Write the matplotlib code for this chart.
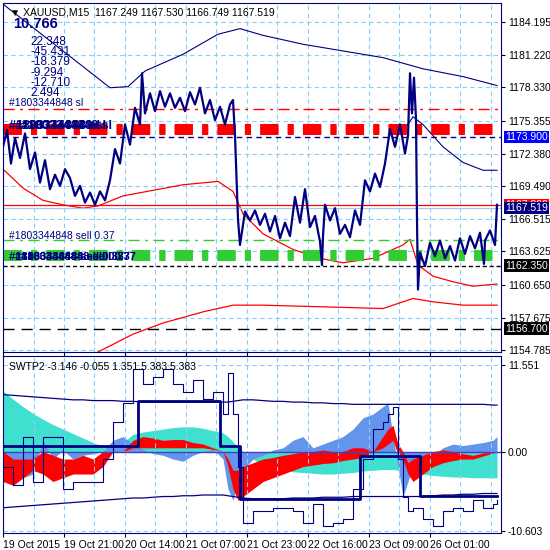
import matplotlib
matplotlib.use("Agg")
import matplotlib.pyplot as plt

plt.rcParams["font.family"] = ["Liberation Sans", "DejaVu Sans"]

# asse x: posizione in barre (1 unita ~ 1 pixel del grafico originale)
time_pos = [0, 61, 122, 183, 244, 305, 366, 427]
time_labels = ["19 Oct 2015", "19 Oct 21:00", "20 Oct 14:00", "21 Oct 07:00",
               "21 Oct 23:00", "22 Oct 16:00", "23 Oct 09:00", "26 Oct 01:00"]
price_ticks = [1154.785, 1157.675, 1160.650, 1163.625, 1166.515, 1169.490,
               1172.380, 1175.355, 1178.330, 1181.220, 1184.195]

# prezzo XAUUSD M15
px_x = [0, 4, 8, 12, 17, 22, 27, 32, 37, 42, 47, 52, 57, 62, 67, 72, 77, 82, 87, 92,
        97, 102, 107, 112, 117, 122, 127, 132, 137, 139, 142, 147, 152, 157, 162, 167,
        172, 177, 182, 187, 192, 197, 202, 207, 212, 217, 222, 227, 230, 232, 235, 237,
        242, 247, 252, 257, 262, 267, 272, 277, 282, 287, 292, 297, 302, 307, 312, 317,
        319, 320, 322, 327, 332, 337, 342, 347, 352, 357, 362, 367, 372, 377, 382, 387,
        392, 397, 402, 405, 407, 409, 411, 413, 414, 415, 417, 422, 427, 432, 437, 442,
        447, 452, 457, 462, 467, 472, 477, 481, 482, 487, 492, 494]
px_y = [1173.0, 1174.5, 1171.5, 1173.8, 1172.0, 1174.2, 1171.0, 1172.5, 1169.8, 1171.8,
        1169.2, 1170.5, 1169.5, 1171.0, 1170.2, 1168.6, 1169.5, 1168.0, 1168.9, 1167.8,
        1169.0, 1168.2, 1170.0, 1172.8, 1171.5, 1175.0, 1173.2, 1176.5, 1175.0, 1179.6,
        1176.0, 1177.8, 1176.2, 1178.0, 1176.6, 1177.8, 1176.5, 1177.4, 1176.2, 1177.9,
        1176.8, 1178.3, 1176.0, 1177.2, 1175.4, 1176.6, 1175.0, 1176.8, 1177.2, 1174.0,
        1166.5, 1164.2, 1167.2, 1166.4, 1167.3, 1166.0, 1167.0, 1165.4, 1166.8, 1164.8,
        1166.2, 1165.0, 1168.5, 1166.2, 1169.2, 1165.8, 1166.8, 1164.5, 1162.4, 1165.0,
        1167.8, 1166.4, 1167.5, 1165.2, 1166.0, 1164.9, 1167.3, 1166.0, 1170.0, 1169.0,
        1170.6, 1169.4, 1171.5, 1174.6, 1173.0, 1175.0, 1172.4, 1174.0, 1179.6, 1176.0,
        1179.2, 1175.5, 1166.4, 1160.2, 1163.5, 1162.3, 1164.4, 1163.2, 1164.6, 1163.0,
        1164.1, 1162.8, 1164.8, 1163.4, 1165.0, 1163.9, 1165.3, 1162.5, 1164.6, 1165.5,
        1164.2, 1167.8]

# medie/inviluppi
bl_up_x = [0, 40, 80, 107, 125, 142, 180, 215, 237, 260, 300, 340, 380, 420, 460, 494]
bl_up_y = [1185.8, 1183.0, 1180.2, 1178.3, 1178.4, 1179.8, 1181.3, 1183.1, 1183.6, 1183.0,
           1182.2, 1181.6, 1181.0, 1180.0, 1179.3, 1178.5]
bl_mid_x = [400, 410, 420, 440, 460, 480, 494]
bl_mid_y = [1174.4, 1175.7, 1175.0, 1173.0, 1171.6, 1170.9, 1170.9]
red_up_x = [0, 20, 40, 60, 80, 95, 120, 150, 180, 215, 230, 240, 260, 290, 317, 340, 370,
            400, 407, 415, 430, 450, 470, 494]
red_up_y = [1171.0, 1169.3, 1168.2, 1167.8, 1167.5, 1167.7, 1168.6, 1169.1, 1169.6, 1169.9,
            1169.0, 1167.0, 1165.2, 1163.8, 1163.0, 1162.6, 1163.0, 1164.2, 1164.7, 1162.4,
            1161.4, 1160.9, 1160.5, 1160.7]
red_lo_x = [95, 130, 160, 200, 230, 260, 300, 340, 380, 410, 430, 460, 494]
red_lo_y = [1154.6, 1156.2, 1157.2, 1158.2, 1158.8, 1158.8, 1158.7, 1158.6, 1158.5, 1159.4,
            1159.1, 1158.8, 1158.8]

# ordini (livelli orizzontali)
sl_levels = [1175.0, 1174.8, 1174.6, 1174.4, 1174.2]
tp_levels = [1163.7, 1163.5, 1163.3, 1163.1, 1162.9]
price_labels = [1173.9, 1167.8, 1167.519, 1162.35, 1156.7]
label_colors = ["#0000ff", "red", "#000080", "black", "black"]

# oscillatore SWTP2
osc_x = [0, 10, 20, 30, 40, 50, 60, 70, 80, 90, 100, 110, 120, 130, 140, 150, 160, 170,
         180, 190, 200, 210, 220, 225, 230, 235, 240, 250, 260, 270, 280, 290, 300, 310,
         320, 330, 340, 350, 360, 370, 380, 385, 390, 395, 400, 405, 410, 420, 430, 440,
         450, 460, 470, 480, 490, 494]
sig = [8.1, 7.0, 6.0, 5.1, 4.3, 3.6, 3.0, 2.4, 1.8, 1.2, 0.7, 0.5, 1.2, 2.3, 2.6, 2.8, 3.0,
       3.2, 3.3, 3.3, 3.1, 2.8, 2.5, 2.0, 1.3, 0.6, 0.0, -1.0, -1.8, -2.2, -2.5, -2.7, -2.8,
       -2.9, -3.0, -3.0, -2.9, -2.8, -2.6, -2.5, -2.4, -2.4, -2.4, -2.5, -2.6, -2.7, -2.8,
       -3.0, -3.2, -3.3, -3.4, -3.4, -3.5, -3.5, -3.5, -3.5]
fast = [-2.0, -4.5, -3.5, -3.0, 1.5, -1.0, 0.2, -1.0, -0.5, -0.3, 0.0, 1.5, 2.0, 1.0, 0.3,
        -0.3, -0.5, -1.0, -1.3, -0.5, 0.0, 0.3, -1.0, -5.0, -6.5, -4.0, -2.5, -1.0, -0.5,
        0.2, 0.5, 1.5, 2.0, 0.5, 1.0, 1.5, 2.0, 3.0, 4.5, 5.0, 6.0, 6.5, 2.0, -2.0, -6.0,
        -4.0, -2.0, -1.5, -0.5, 0.5, 1.0, 0.8, 1.0, 1.2, 1.5, 2.0]
red_top = [0.0, -1.0, -1.0, -1.0, 0.0, -0.5, -1.0, -1.0, -0.5, -1.0, 0.0, 0.0, 0.0, 1.5,
           2.0, 1.8, 1.5, 1.6, 1.6, 1.2, 1.0, 0.5, 0.0, -1.0, -2.5, -2.5, -2.0, -1.5, -1.0,
           -0.8, -0.5, -0.3, 0.0, 0.0, 0.2, 0.0, 0.0, 0.5, 0.5, 0.0, 2.0, 3.0, 3.5, 1.0, 0.0,
           -1.5, -1.0, -0.5, 0.0, 0.2, 0.0, -0.3, -0.5, -0.2, 0.0, 0.0]
red_bot = [-4.0, -4.5, -3.5, -2.5, -3.0, -4.0, -3.5, -3.0, -3.0, -3.0, -2.0, 0.0, 0.0,
           0.5, 0.5, 0.5, 0.5, 0.5, 0.5, 0.5, 0.5, 0.3, 0.0, -2.0, -5.0, -6.5, -6.0, -5.0,
           -4.0, -3.5, -3.0, -2.5, -2.0, -1.8, -1.6, -1.5, -1.2, -1.0, -0.8, 0.0, 0.5, 1.0,
           1.5, -0.5, -1.0, -3.0, -4.0, -3.0, -2.0, -1.5, -1.2, -1.0, -1.0, -0.6, -0.2, 0.0]
raw = [-2.0, -4.5, 2.0, -4.0, 2.0, 2.0, -5.0, -4.0, -4.0, -4.0, -1.0, 4.0, 6.5, 11.0, 9.0,
       10.0, 11.0, 9.0, 8.0, 9.5, 7.0, 8.0, 5.0, 10.5, 5.0, -2.0, -9.5, -8.0, -8.0, -7.5,
       -7.5, -8.0, -9.5, -7.0, -10.0, -9.5, -9.0, -5.0, -1.0, 3.0, 4.0, 5.0, 6.0, -1.0,
       -6.0, -8.0, -7.5, -9.0, -10.0, -8.0, -7.5, -8.0, -6.5, -7.5, -7.0, -6.5]
step_x = [0, 135, 217, 237, 357, 417, 494]
step_y = [0.8, 6.7, 0.7, -6.3, -0.6, -5.9, -5.9]
env_up = [7.6, 7.5, 7.4, 7.3, 7.2, 7.1, 7.0, 6.9, 6.9, 6.8, 6.8, 6.8, 6.7, 6.7, 6.6, 6.6,
          6.6, 6.6, 6.6, 6.6, 6.6, 6.6, 6.6, 6.6, 6.7, 6.8, 6.9, 6.9, 6.8, 6.7, 6.7, 6.6,
          6.6, 6.5, 6.5, 6.4, 6.4, 6.3, 6.3, 6.3, 6.3, 6.3, 6.3, 6.3, 6.3, 6.3, 6.3, 6.3,
          6.3, 6.3, 6.3, 6.3, 6.3, 6.3, 6.2, 6.2]
env_lo = [-7.5, -7.4, -7.3, -7.2, -7.1, -7.0, -6.9, -6.8, -6.7, -6.6, -6.5, -6.4, -6.3,
          -6.2, -6.2, -6.1, -6.0, -6.0, -5.9, -5.9, -5.8, -5.8, -5.8, -5.9, -6.0, -6.1,
          -6.2, -6.3, -6.3, -6.3, -6.3, -6.2, -6.2, -6.2, -6.1, -6.1, -6.1, -6.0, -6.0,
          -6.0, -6.0, -6.0, -6.0, -6.0, -6.0, -6.0, -6.0, -6.0, -5.9, -5.8, -5.8, -5.7,
          -5.7, -5.6, -5.6, -5.6]

NAVY = "#000080"
GRID = "#87cefa"
W, H = 550, 550
fig = plt.figure(figsize=(5.5, 5.5), dpi=100)


def box(l, t, r, b):
    return [l / W, 1 - b / H, (r - l) / W, (b - t) / H]


ax = fig.add_axes(box(3, 3, 501, 352))
ax2 = fig.add_axes(box(3, 356, 501, 533))
for a in (ax, ax2):
    a.set_xlim(0, 498)
    for s in a.spines.values():
        s.set_color(NAVY)
    a.tick_params(colors="black", labelsize=7.5, direction="out", length=3, pad=2)
    a.yaxis.tick_right()
    a.set_xticks(time_pos)
    a.xaxis.set_minor_locator(matplotlib.ticker.MultipleLocator(30.5))
    a.grid(True, which="both", axis="x", color=GRID, ls=(0, (4, 3)), lw=0.8)
    a.grid(True, axis="y", color=GRID, ls=(0, (4, 3)), lw=0.8)
    a.tick_params(which="minor", length=0)

# pannello prezzi
ax.set_ylim(1154.6, 1185.9)
ax.set_yticks(price_ticks)
ax.set_yticklabels([f"{v:.3f}" for v in price_ticks])
ax.set_xticklabels([])
ax.plot(bl_up_x, bl_up_y, color=NAVY, lw=0.8)
ax.plot(bl_mid_x, bl_mid_y, color=NAVY, lw=0.8)
ax.plot(red_up_x, red_up_y, color="red", lw=0.9)
ax.plot(red_lo_x, red_lo_y, color="red", lw=0.9)
ax.axhline(1176.4, color="red", lw=1, ls=(0, (8, 4, 2, 4)))
for lv in sl_levels:
    ax.axhline(lv, color="red", lw=2.2, ls=(0, (6, 3, 2, 3)))
ax.axhline(1173.9, color=NAVY, lw=1, ls=(0, (4, 3)))
ax.axhline(1164.6, color="#32cd32", lw=1, ls=(0, (8, 4, 2, 4)))
for lv in tp_levels:
    ax.axhline(lv, color="#32cd32", lw=2.2, ls=(0, (6, 3, 2, 3)))
ax.axhline(1162.35, color="black", lw=1, ls=(0, (3, 2)))
ax.axhline(1156.7, color="black", lw=1, ls=(0, (8, 5)))
ax.axhline(1167.8, color="red", lw=0.9)
ax.axhline(1167.519, color="#a0c8f0", lw=0.9)
ax.plot(px_x, px_y, color=NAVY, lw=1.6)

ytr = ax.get_yaxis_transform()
for lv, bg in zip(price_labels, label_colors):
    ax.text(1.008, lv, f"{lv:.3f}", transform=ytr, fontsize=7.5, color="white",
            va="center", ha="left", clip_on=False,
            bbox=dict(facecolor=bg, edgecolor="none", pad=0.8))

ax.text(0.015, 0.988, "\u25bc XAUUSD,M15  1167.249 1167.530 1166.749 1167.519",
        transform=ax.transAxes, fontsize=7.5, va="top", color="black")
ax.text(0.02, 0.96, "10.766", transform=ax.transAxes, fontsize=10.5, weight="bold",
        va="top", color=NAVY)
stats = ["22.348", "-45.431", "-18.379", "-9.294", "-12.710", "2.494"]
for i, s in enumerate(stats):
    ax.text(0.055, 0.905 - i * 0.029, s, transform=ax.transAxes, fontsize=8.5,
            va="top", color=NAVY)
ax.text(0.012, 0.705, "#1803344848 sl", transform=ax.transAxes, fontsize=7.5, color=NAVY)
for dx in (0, 0.012, 0.024):
    ax.text(0.012 + dx, 0.64, "#1803344848 sl", transform=ax.transAxes, fontsize=9,
            color=NAVY, weight="bold")
ax.text(0.012, 0.325, "#1803344848 sell 0.37", transform=ax.transAxes, fontsize=7.5,
        color=NAVY)
for dx in (0, 0.012, 0.024):
    ax.text(0.012 + dx, 0.265, "#1803344848 sell 0.37", transform=ax.transAxes,
            fontsize=8, color=NAVY, weight="bold")

# pannello oscillatore
ax2.set_ylim(-10.87, 12.75)
ax2.set_yticks([11.551, 0.0, -10.603])
ax2.set_yticklabels(["11.551", "0.00", "-10.603"])
ax2.set_xticklabels(time_labels, ha="left")
ax2.fill_between(osc_x, 0, sig, color="#40e0d0", lw=0)
ax2.fill_between(osc_x, 0, fast, color="#6495ed", lw=0)
ax2.fill_between(osc_x, red_bot, red_top, color="red", lw=0)
ax2.axhline(0, color="#4040c0", lw=1)
ax2.plot(osc_x, env_up, color=NAVY, lw=0.9)
ax2.plot(osc_x, env_lo, color=NAVY, lw=0.9)
ax2.plot(osc_x, raw, color=NAVY, lw=0.8, drawstyle="steps-post")
ax2.plot(step_x, step_y, color=NAVY, lw=2, drawstyle="steps-post")
ax2.text(0.012, 0.965, "SWTP2 -3.146 -0.055 1.351 5.383 5.383", transform=ax2.transAxes,
         fontsize=7.5, va="top", color="black")

fig.savefig("out.png", dpi=100)
